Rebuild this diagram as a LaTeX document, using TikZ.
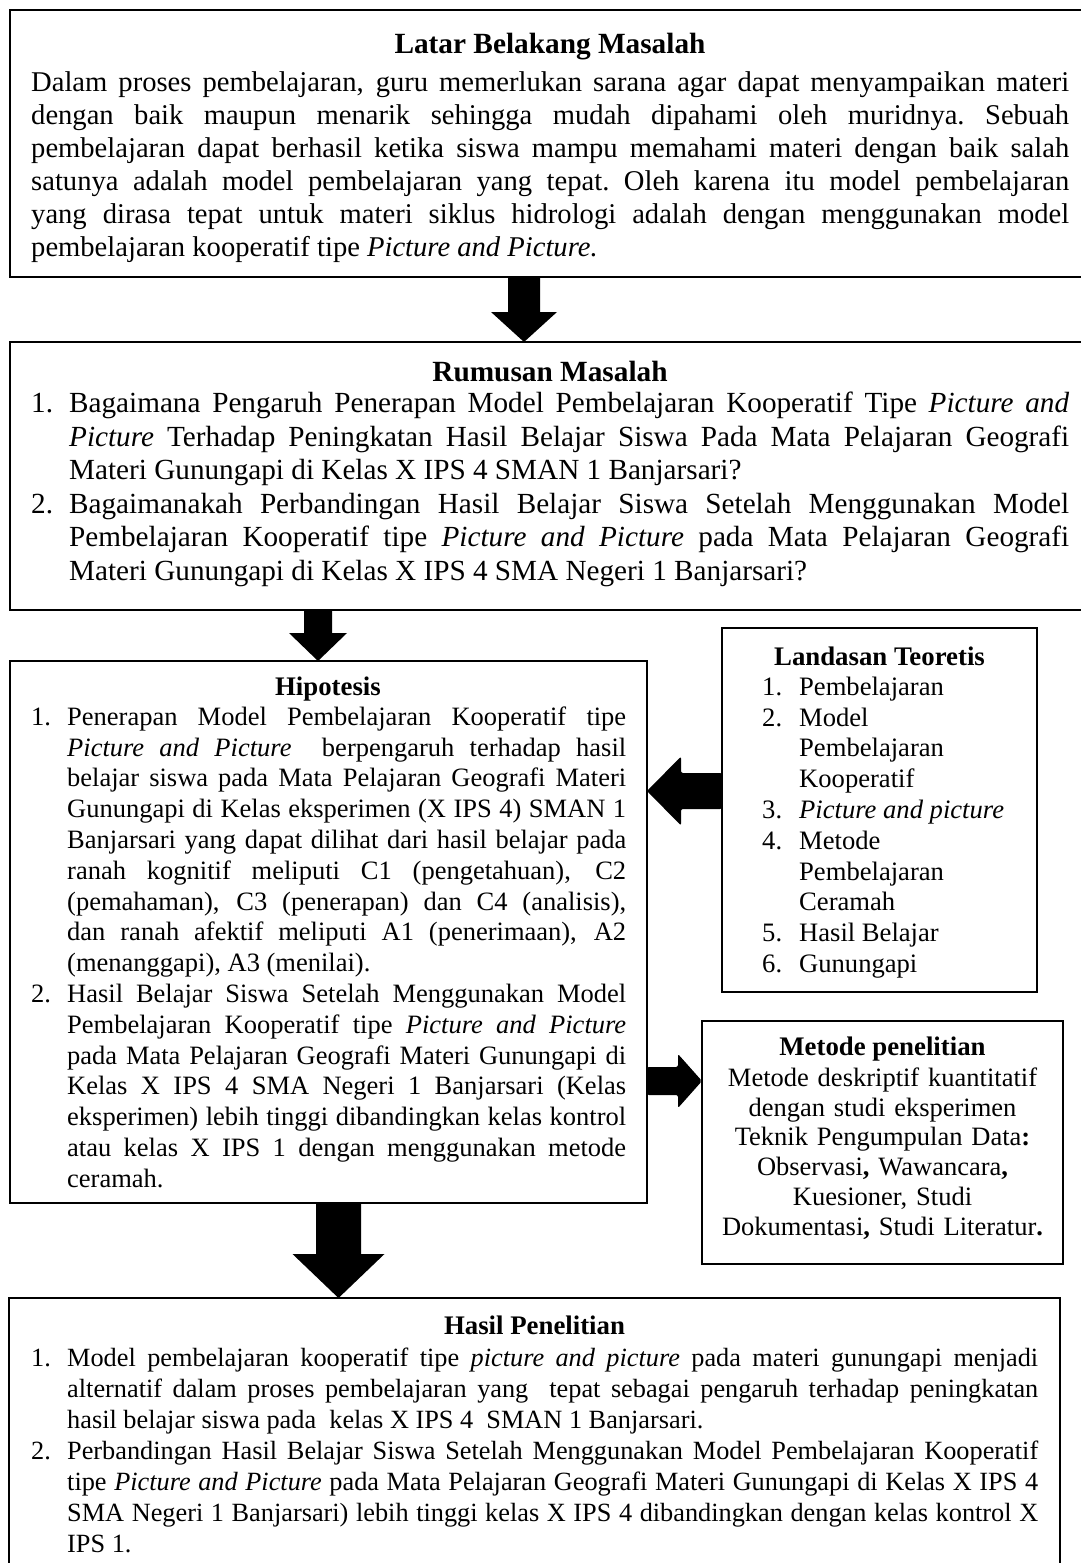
\documentclass[tikz,border=0pt]{standalone}
\usepackage{fontspec}
\setmainfont{Liberation Serif}
\usetikzlibrary{calc}
\newlength{\nw}
\newlength{\bw}
\newcommand{\fs}[2]{\fontsize{#1pt}{#2pt}\selectfont}
\newcommand{\setw}[2]{\setlength{\bw}{#1pt}\setlength{\nw}{#2pt}%
  \spaceskip=0.25em plus 2em minus 0.1em\xspaceskip=\spaceskip}
\newcommand{\jline}[1]{\noindent\strut\hbox to \bw{#1}\par}
\newcommand{\lline}[1]{\noindent\strut #1\par}
\newcommand{\njline}[2]{\noindent\strut\hbox to \nw{#1\hss}\hbox to \dimexpr\bw-\nw\relax{#2}\par}
\newcommand{\cjline}[1]{\noindent\strut\hbox to \nw{}\hbox to \dimexpr\bw-\nw\relax{#1}\par}
\newcommand{\nlline}[2]{\noindent\strut\hbox to \nw{#1\hss}#2\par}
\newcommand{\clline}[1]{\noindent\strut\hbox to \nw{}#1\par}
\newcommand{\blkdown}[5]{%
  \fill[blk] let \p1=(#1), \p2=(#2) in
  (\x1-#3pt,\y1) -- (\x1+#3pt,\y1) -- (\x1+#3pt,\y2+#5pt) -- (\x1+#4pt,\y2+#5pt)
  -- (\x1,\y2) -- (\x1-#4pt,\y2+#5pt) -- (\x1-#3pt,\y2+#5pt) -- cycle;}
\newcommand{\blkleft}[5]{%
  \fill[blk,rounded corners=2pt] let \p1=(#1), \p2=(#2) in
  (\x1,\y1+#3pt) -- (\x1,\y1-#3pt) -- (\x2+#5pt,\y1-#3pt) -- (\x2+#5pt,\y1-#4pt)
  -- (\x2,\y1) -- (\x2+#5pt,\y1+#4pt) -- (\x2+#5pt,\y1+#3pt) -- cycle;}
\newcommand{\blkright}[5]{%
  \fill[blk,rounded corners=2pt] let \p1=(#1), \p2=(#2) in
  (\x1,\y1+#3pt) -- (\x1,\y1-#3pt) -- (\x2-#5pt,\y1-#3pt) -- (\x2-#5pt,\y1-#4pt)
  -- (\x2,\y1) -- (\x2-#5pt,\y1+#4pt) -- (\x2-#5pt,\y1+#3pt) -- cycle;}
\tikzset{
  box/.style={draw, line width=1.2pt, inner sep=0pt, outer sep=0pt, anchor=north west},
  ttl/.style={font=\fs{26.8}{30}\bfseries, anchor=base, inner sep=0pt},
  bigttl/.style={font=\fs{29.3}{33}\bfseries, anchor=base, inner sep=0pt},
  body/.style={anchor=north west, inner sep=0pt, text width=#1},
  blk/.style={fill=black},
}
\begin{document}
\begin{tikzpicture}[x=1pt, y=-1pt]
\useasboundingbox (0,0) rectangle (1081,1563);
% boxes
\node[box, line width=2pt, minimum width=1090pt, minimum height=267pt] (latar) at (10,10) {};
\node[box, line width=1.5pt, minimum width=1090pt, minimum height=268pt] (rumusan) at (10,342) {};
\node[box, minimum width=637pt, minimum height=542pt] (hipo) at (10,661) {};
\node[box, minimum width=315pt, minimum height=364pt] (landasan) at (722,628) {};
\node[box, minimum width=361pt, minimum height=243pt] (metode) at (702,1021) {};
\node[box, minimum width=1051pt, minimum height=280pt] (hasil) at (9,1298) {};

% Latar Belakang
\node[bigttl] (t1) at (550,54) {Latar Belakang Masalah};
\node[body=1038pt, font=\fs{28.6}{33}] (b1) at (31,68.4) {\setw{1038}{0}%
\jline{Dalam proses pembelajaran, guru memerlukan sarana agar dapat menyampaikan materi}
\jline{dengan baik maupun menarik sehingga mudah dipahami oleh muridnya. Sebuah}
\jline{pembelajaran dapat berhasil ketika siswa mampu memahami materi dengan baik salah}
\jline{satunya adalah model pembelajaran yang tepat. Oleh karena itu model pembelajaran}
\jline{yang dirasa tepat untuk materi siklus hidrologi adalah dengan menggunakan model}
\lline{pembelajaran kooperatif tipe \textit{Picture and Picture.}}};

% Rumusan
\node[bigttl] (t2) at (550,381) {Rumusan Masalah};
\node[body=1038pt, font=\fs{29.2}{33.5}] (b2) at (31,389) {\setw{1038}{38}%
\njline{1.}{Bagaimana Pengaruh Penerapan Model Pembelajaran Kooperatif Tipe \textit{Picture and}}
\cjline{\textit{Picture} Terhadap Peningkatan Hasil Belajar Siswa Pada Mata Pelajaran Geografi}
\clline{Materi Gunungapi di Kelas X IPS 4 SMAN 1 Banjarsari?}
\njline{2.}{Bagaimanakah Perbandingan Hasil Belajar Siswa Setelah Menggunakan Model}
\cjline{Pembelajaran Kooperatif tipe \textit{Picture and Picture} pada Mata Pelajaran Geografi}
\clline{Materi Gunungapi di Kelas X IPS 4 SMA Negeri 1 Banjarsari?}};

% Hipotesis
\node[ttl] (t3) at (328,695) {Hipotesis};
\node[body=595pt, font=\fs{26.5}{30.8}] (b3) at (31,703.44) {\setw{595}{36}%
\njline{1.}{Penerapan Model Pembelajaran Kooperatif tipe}
\cjline{\textit{Picture and Picture}\ \ berpengaruh terhadap hasil}
\cjline{belajar siswa pada Mata Pelajaran Geografi Materi}
\cjline{Gunungapi di Kelas eksperimen (X IPS 4) SMAN 1}
\cjline{Banjarsari yang dapat dilihat dari hasil belajar pada}
\cjline{ranah kognitif meliputi C1 (pengetahuan), C2}
\cjline{(pemahaman), C3 (penerapan) dan C4 (analisis),}
\cjline{dan ranah afektif meliputi A1 (penerimaan), A2}
\clline{(menanggapi), A3 (menilai).}
\njline{2.}{Hasil Belajar Siswa Setelah Menggunakan Model}
\cjline{Pembelajaran Kooperatif tipe \textit{Picture and Picture}}
\cjline{pada Mata Pelajaran Geografi Materi Gunungapi di}
\cjline{Kelas X IPS 4 SMA Negeri 1 Banjarsari (Kelas}
\cjline{eksperimen) lebih tinggi dibandingkan kelas kontrol}
\cjline{atau kelas X IPS 1 dengan menggunakan metode}
\clline{ceramah.}};

% Landasan Teoretis
\node[ttl] (t4) at (879.5,665) {Landasan Teoretis};
\node[body=270pt, font=\fs{26.6}{30.8}] (b4) at (762,673.44) {\setw{270}{37}%
\nlline{1.}{Pembelajaran}
\nlline{2.}{Model}
\clline{Pembelajaran}
\clline{Kooperatif}
\nlline{3.}{\textit{Picture and picture}}
\nlline{4.}{Metode}
\clline{Pembelajaran}
\clline{Ceramah}
\nlline{5.}{Hasil Belajar}
\nlline{6.}{Gunungapi}};

% Metode penelitian
\node[ttl] (t5) at (882.5,1055) {Metode penelitian};
\node[anchor=north, inner sep=0pt, text width=361pt, align=center, font=\fs{26.5}{29.8}] (b5) at (882.5,1065.14) {%
\strut Metode deskriptif kuantitatif\\
\strut dengan studi eksperimen\\
\strut Teknik Pengumpulan Data\textbf{:}\\
\strut Observasi\textbf{,} Wawancara\textbf{,}\\
\strut Kuesioner, Studi\\
\strut Dokumentasi\textbf{,} Studi Literatur\textbf{.}};

% Hasil Penelitian
\node[ttl] (t6) at (534.5,1334) {Hasil Penelitian};
\node[body=1007pt, font=\fs{26.3}{31}] (b6) at (31,1344.3) {\setw{1007}{36}%
\njline{1.}{Model pembelajaran kooperatif tipe \textit{picture and picture} pada materi gunungapi menjadi}
\cjline{alternatif dalam proses pembelajaran yang\ \ tepat sebagai pengaruh terhadap peningkatan}
\clline{hasil belajar siswa pada\ \ kelas X IPS 4\ \ SMAN 1 Banjarsari.}
\njline{2.}{Perbandingan Hasil Belajar Siswa Setelah Menggunakan Model Pembelajaran Kooperatif}
\cjline{tipe \textit{Picture and Picture} pada Mata Pelajaran Geografi Materi Gunungapi di Kelas X IPS 4}
\cjline{SMA Negeri 1 Banjarsari) lebih tinggi kelas X IPS 4 dibandingkan dengan kelas kontrol X}
\clline{IPS 1.}};

% connectors (block arrows)
\coordinate (a1s) at (524,0 |- latar.south);
\coordinate (a1e) at (524,0 |- rumusan.north);
\blkdown{a1s}{a1e}{16}{33}{30}
\coordinate (a2s) at (318,0 |- rumusan.south);
\coordinate (a2e) at (318,0 |- hipo.north);
\blkdown{a2s}{a2e}{14}{29}{28}
\coordinate (a3s) at (landasan.west |- 0,791);
\coordinate (a3e) at (hipo.east |- 0,791);
\blkleft{a3s}{a3e}{18}{34.5}{34}
\coordinate (a4s) at (hipo.east |- 0,1081);
\coordinate (a4e) at (metode.west |- 0,1081);
\blkright{a4s}{a4e}{14}{27}{24}
\coordinate (a5s) at (338.5,0 |- hipo.south);
\coordinate (a5e) at (338.5,0 |- hasil.north);
\blkdown{a5s}{a5e}{22.5}{46}{44}
\end{tikzpicture}
\end{document}
